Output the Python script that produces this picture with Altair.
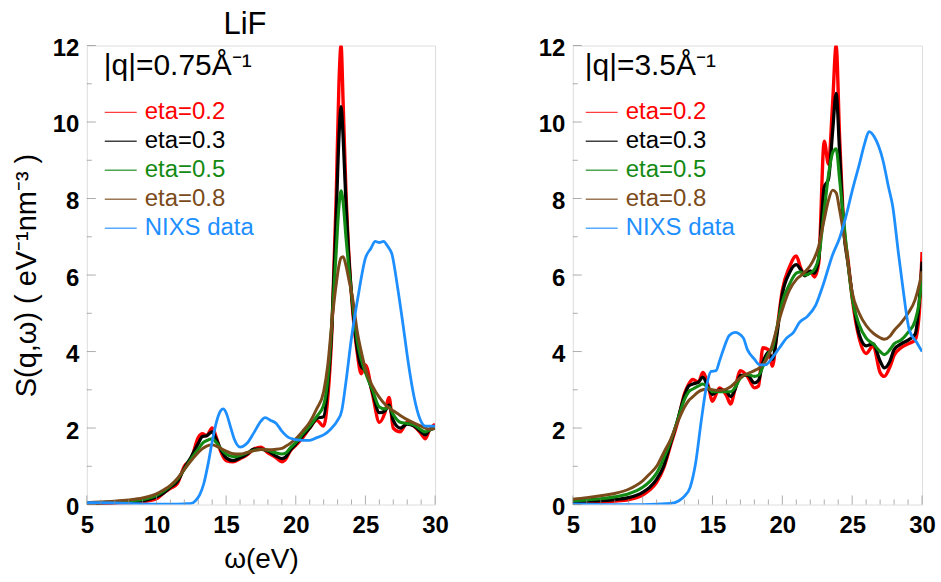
import altair as alt
import pandas as pd

FONT = "Liberation Sans"
GRAY = "#8c8c8c"

SERIES = ["eta=0.2", "eta=0.3", "eta=0.5", "eta=0.8", "NIXS data"]
COLORS = ["#ff0000", "#000000", "#138a13", "#7a4a1a", "#1e8fff"]
WIDTHS = [3.4, 2.8, 2.5, 2.8, 2.6]

X_MAJOR = [5, 10, 15, 20, 25, 30]
X_MINOR = [6, 7, 8, 9, 11, 12, 13, 14, 16, 17, 18, 19, 21, 22, 23, 24, 26, 27, 28, 29]
Y_MAJOR = [0, 2, 4, 6, 8, 10, 12]
Y_MINOR = [1, 3, 5, 7, 9, 11]

# ---------------- left panel: |q| = 0.75 1/A ----------------
L_X = [5, 6, 7, 8, 9, 10, 10.5, 11, 11.5, 12, 12.5, 13, 13.3, 13.6, 14, 14.3, 14.6, 15, 15.5, 16,
       16.5, 17, 17.5, 18, 18.5, 19, 19.3, 19.6, 20, 20.5, 21, 21.5, 22, 22.3, 22.6, 22.9, 23.1, 23.25,
       23.4, 23.6, 23.8, 24.1, 24.4, 24.7, 25, 25.5, 26, 26.4, 26.7, 27, 27.5, 28, 28.5, 29, 29.3, 29.6, 30]
L_ETA02 = [0.02, 0.03, 0.04, 0.05, 0.07, 0.15, 0.3, 0.42, 0.55, 1.0, 1.2, 1.75, 1.85, 1.8, 2.0, 1.75, 1.4,
           1.15, 1.12, 1.2, 1.3, 1.45, 1.5, 1.35, 1.25, 1.12, 1.2, 1.4, 1.55, 1.75, 2.0, 2.2, 2.05, 2.8, 4.6,
           8.0, 11.0, 12.0, 10.5, 8.2, 6.6, 5.0, 4.0, 3.42, 3.65, 2.9, 2.15, 2.4, 2.8, 2.0, 1.9, 2.15, 2.05,
           1.85, 1.72, 1.95, 2.1]
L_ETA03 = [0.03, 0.04, 0.05, 0.07, 0.1, 0.2, 0.3, 0.45, 0.6, 0.95, 1.25, 1.6, 1.78, 1.8, 1.9, 1.7, 1.45,
           1.22, 1.15, 1.22, 1.32, 1.45, 1.45, 1.4, 1.28, 1.2, 1.25, 1.42, 1.58, 1.8, 2.0, 2.25, 2.3, 3.1,
           4.7, 7.5, 9.6, 10.4, 9.6, 7.9, 6.5, 5.1, 4.1, 3.6, 3.5, 2.95, 2.4, 2.45, 2.6, 2.2, 2.0, 2.1, 2.05,
           1.9, 1.82, 1.95, 2.0]
L_ETA05 = [0.04, 0.05, 0.07, 0.09, 0.13, 0.24, 0.35, 0.48, 0.66, 0.92, 1.2, 1.45, 1.6, 1.67, 1.72, 1.62,
           1.47, 1.32, 1.25, 1.28, 1.35, 1.42, 1.44, 1.42, 1.36, 1.32, 1.35, 1.48, 1.62, 1.85, 2.05, 2.3,
           2.6, 3.3, 4.8, 6.6, 7.8, 8.2, 7.9, 7.0, 6.2, 5.2, 4.3, 3.8, 3.45, 3.0, 2.55, 2.5, 2.55, 2.35,
           2.15, 2.12, 2.08, 1.95, 1.9, 1.95, 2.0]
L_ETA08 = [0.05, 0.07, 0.09, 0.12, 0.17, 0.28, 0.38, 0.5, 0.68, 0.92, 1.15, 1.36, 1.46, 1.53, 1.56, 1.53,
           1.47, 1.4, 1.33, 1.32, 1.36, 1.41, 1.44, 1.43, 1.44, 1.47, 1.53, 1.6, 1.72, 1.92, 2.15, 2.5,
           2.95, 3.65, 4.8, 5.75, 6.25, 6.45, 6.48, 6.25, 5.9, 5.35, 4.55, 4.0, 3.55, 3.1, 2.8, 2.62, 2.52,
           2.45, 2.33, 2.22, 2.13, 2.05, 2.0, 1.97, 2.0]
L_NIXS_X = [5, 7, 9, 11, 12, 12.5, 12.8, 13.1, 13.4, 13.7, 14.0, 14.3, 14.6, 14.8, 15.0, 15.3, 15.6, 16.0,
            16.5, 17.0, 17.5, 17.8, 18.2, 18.6, 19.0, 19.5, 20.0, 20.5, 21.0, 21.5, 22.0, 22.5, 23.0, 23.3,
            23.6, 24.0, 24.5, 25.0, 25.4, 25.7, 26.0, 26.3, 26.6, 26.9, 27.3, 27.7, 28.1, 28.5, 28.9, 29.3,
            29.6, 30]
L_NIXS = [0.05, 0.04, 0.02, 0.01, 0.02, 0.03, 0.1, 0.25, 0.55, 1.05, 1.65, 2.15, 2.45, 2.5, 2.4, 2.05,
          1.7, 1.5, 1.6, 1.88, 2.18, 2.27, 2.2, 2.12, 1.92, 1.75, 1.7, 1.68, 1.68, 1.75, 1.82, 1.97, 2.2,
          2.45, 3.2, 4.36, 5.5, 6.44, 6.7, 6.88, 6.85, 6.88, 6.75, 6.55, 5.7, 4.7, 3.65, 2.8, 2.25, 2.05,
          2.05, 2.05]

# ---------------- right panel: |q| = 3.5 1/A ----------------
R_X = [5, 6, 7, 8, 9, 10, 10.5, 11, 11.5, 12, 12.5, 13, 13.3, 13.6, 14, 14.3, 14.7, 15, 15.5, 16, 16.3,
       16.6, 17, 17.5, 18, 18.3, 18.6, 19, 19.3, 19.6, 20, 20.5, 21, 21.3, 21.6, 22, 22.3, 22.6, 23, 23.3,
       23.6, 23.85, 24.1, 24.4, 24.7, 25, 25.5, 26, 26.5, 27, 27.3, 27.7, 28, 28.5, 29, 29.5, 29.8, 30]
R_ETA02 = [0.05, 0.06, 0.07, 0.09, 0.13, 0.25, 0.38, 0.58, 0.95, 1.55, 2.15, 2.9, 3.15, 3.27, 3.2, 3.45,
           3.1, 2.7, 3.05, 2.85, 2.63, 3.0, 3.5, 3.35, 3.05, 3.1, 4.1, 4.05, 3.62, 4.5, 5.6, 6.2, 6.5, 6.2,
           6.0, 6.1, 5.95, 6.3, 9.5, 8.9, 10.5, 12.0, 9.6, 7.3, 6.4, 5.4, 4.35, 3.95, 4.15, 3.45, 3.35, 3.6,
           3.9, 4.1, 4.2, 4.3, 5.0, 6.6]
R_ETA03 = [0.08, 0.09, 0.1, 0.13, 0.18, 0.32, 0.45, 0.66, 1.0, 1.6, 2.2, 2.85, 3.1, 3.15, 3.2, 3.33, 3.05,
           2.88, 3.0, 2.95, 2.82, 3.0, 3.38, 3.38, 3.18, 3.25, 3.7, 3.98, 3.8, 4.4, 5.5, 6.05, 6.27, 6.15,
           5.98, 6.1, 6.05, 6.4, 8.3, 8.5, 9.75, 10.75, 9.2, 7.14, 6.3, 5.5, 4.45, 4.15, 4.2, 3.75, 3.57,
           3.75, 4.05, 4.2, 4.3, 4.45, 5.3, 6.35]
R_ETA05 = [0.1, 0.12, 0.15, 0.2, 0.28, 0.45, 0.6, 0.82, 1.2, 1.65, 2.2, 2.75, 2.95, 3.02, 3.1, 3.15, 3.05,
           2.95, 2.95, 2.95, 2.95, 3.05, 3.3, 3.4, 3.35, 3.38, 3.6, 3.95, 4.1, 4.6, 5.3, 5.75, 6.05, 6.08,
           6.0, 6.05, 6.15, 6.45, 7.7, 8.6, 9.2, 9.3, 8.5, 7.4, 6.3, 5.4, 4.7, 4.35, 4.2, 4.0, 3.92, 4.05,
           4.2, 4.3, 4.5, 4.8, 5.3, 6.0]
R_ETA08 = [0.14, 0.18, 0.23, 0.29, 0.4, 0.62, 0.8, 1.0, 1.35, 1.7, 2.15, 2.55, 2.72, 2.82, 2.95, 3.0, 3.02,
           3.0, 2.98, 3.02, 3.08, 3.18, 3.32, 3.42, 3.5, 3.56, 3.66, 3.88, 4.2, 4.6, 5.1, 5.6, 5.88, 5.98,
           6.08, 6.25, 6.45, 6.75, 7.45, 7.95, 8.22, 8.15, 7.7, 7.05, 6.3, 5.55, 5.0, 4.68, 4.48, 4.36, 4.32,
           4.4, 4.55, 4.75, 5.0, 5.35, 5.75, 6.1]
R_NIXS_X = [5, 8, 10, 12, 12.6, 13.0, 13.4, 13.8, 14.2, 14.55, 14.9, 15.25, 15.5, 15.75, 16.2, 16.6, 17.2,
            17.5, 18.0, 18.4, 18.8, 19.3, 19.8, 20.3, 20.8, 21.2, 21.8, 22.4, 22.9, 23.6, 24.1, 24.6, 25.0,
            25.5, 25.9, 26.2, 26.6, 27.2, 27.6, 27.9, 28.3, 28.6, 29.1, 29.6, 30]
R_NIXS = [0.02, 0.0, 0.0, 0.03, 0.1, 0.22, 0.45, 1.1, 2.2, 3.05, 3.48, 3.5, 3.75, 4.02, 4.42, 4.5, 4.36,
          4.05, 3.8, 3.65, 3.65, 3.85, 4.1, 4.35, 4.5, 4.75, 4.92, 5.22, 5.72, 6.53, 6.97, 7.6, 8.2, 8.88,
          9.45, 9.75, 9.6, 9.0, 8.3, 7.8, 6.6, 5.75, 4.55, 4.25, 4.0]


def build_df(x, calc, nx, ny):
    rows = []
    for name, ys in zip(SERIES[:4], calc):
        assert len(ys) == len(x), name
        rows += [{"x": a, "y": b, "series": name} for a, b in zip(x, ys)]
    assert len(nx) == len(ny)
    rows += [{"x": a, "y": b, "series": SERIES[4]} for a, b in zip(nx, ny)]
    return pd.DataFrame(rows)


LEFT = build_df(L_X, [L_ETA02, L_ETA03, L_ETA05, L_ETA08], L_NIXS_X, L_NIXS)
RIGHT = build_df(R_X, [R_ETA02, R_ETA03, R_ETA05, R_ETA08], R_NIXS_X, R_NIXS)

label_expr = ""
for s, c in zip(SERIES[:-1], COLORS[:-1]):
    label_expr += f"datum.label == '{s}' ? '{c}' : "
label_expr += f"'{COLORS[-1]}'"


def panel(df, qtitle, width, legend_x, xtitle=None, ytitle=None, title=None):
    xs = alt.Scale(domain=[5, 30], nice=False, zero=False)
    ys = alt.Scale(domain=[0, 12], nice=False)
    xax = alt.Axis(values=X_MAJOR, ticks=False, domain=False, grid=False, labelFont=FONT,
                   labelFontSize=24, labelFontWeight="bold", labelColor="#000000", labelPadding=9,
                   labelFlush=False, labelOverlap=False, title=xtitle, titleFont=FONT,
                   titleFontSize=28, titleFontWeight="normal", titleColor="#000000", titlePadding=8)
    yax = alt.Axis(values=Y_MAJOR, ticks=False, domain=False, grid=False, labelFont=FONT,
                   labelFontSize=24, labelFontWeight="bold", labelColor="#000000", labelPadding=8,
                   labelFlush=False, labelOverlap=False, labelOffset=3, title=ytitle, titleFont=FONT,
                   titleFontSize=29, titleFontWeight="normal", titleColor="#000000", titlePadding=11)
    X = alt.X("x:Q", scale=xs, axis=xax)
    Y = alt.Y("y:Q", scale=ys, axis=yax)
    legend = alt.Legend(title=qtitle, orient="none", legendX=legend_x, legendY=6, titleFont=FONT,
                        titleFontSize=30, titleFontWeight="normal", titleColor="#000000",
                        titlePadding=14, titleLimit=400, labelFont=FONT, labelFontSize=24,
                        labelColor={"expr": label_expr}, labelLimit=400, labelOffset=7,
                        symbolType="stroke", symbolSize=1024, symbolStrokeWidth=1.5,
                        symbolOpacity=0.75, rowPadding=0, padding=0)
    lines = alt.Chart(df).mark_line(clip=True, interpolate="monotone").encode(
        x=X, y=Y,
        color=alt.Color("series:N", scale=alt.Scale(domain=SERIES, range=COLORS), legend=legend),
        strokeWidth=alt.StrokeWidth("series:N", scale=alt.Scale(domain=SERIES, range=WIDTHS),
                                    legend=None),
    )
    xt_major = alt.Chart(pd.DataFrame({"x": X_MAJOR, "y": [0] * len(X_MAJOR)})).mark_tick(
        orient="vertical", size=9, thickness=1, color=GRAY, yOffset=-4.5).encode(x=X, y=Y)
    xt_minor = alt.Chart(pd.DataFrame({"x": X_MINOR, "y": [0] * len(X_MINOR)})).mark_tick(
        orient="vertical", size=5, thickness=1, color=GRAY, yOffset=-2.5).encode(x=X, y=Y)
    yt_major = alt.Chart(pd.DataFrame({"x": [5] * len(Y_MAJOR), "y": Y_MAJOR})).mark_tick(
        orient="horizontal", size=9, thickness=1, color=GRAY, xOffset=4.5).encode(x=X, y=Y)
    yt_minor = alt.Chart(pd.DataFrame({"x": [5] * len(Y_MINOR), "y": Y_MINOR})).mark_tick(
        orient="horizontal", size=5, thickness=1, color=GRAY, xOffset=2.5).encode(x=X, y=Y)
    ch = alt.layer(lines, xt_major, xt_minor, yt_major, yt_minor).properties(width=width, height=460)
    if title is not None:
        ch = ch.properties(title=alt.TitleParams(title, font=FONT, fontSize=31, fontWeight="normal",
                                                 color="#000000", anchor="middle", dx=-16, offset=-4))
    return ch


left = panel(LEFT, "|q|=0.75Å⁻¹", 349, 17, xtitle="ω(eV)", ytitle="S(q,ω) ( eV⁻¹nm⁻³ )", title="LiF")
right = panel(RIGHT, "|q|=3.5Å⁻¹", 350, 12)

chart = alt.hconcat(left, right, spacing=88).resolve_legend(color="independent").configure_view(
    stroke=GRAY, strokeWidth=1.5
).configure(background="white").properties(
    padding={"left": 11, "top": 7, "right": 5, "bottom": 2}
)

chart.save("out.html", embed_options={"renderer": "svg", "actions": False})
